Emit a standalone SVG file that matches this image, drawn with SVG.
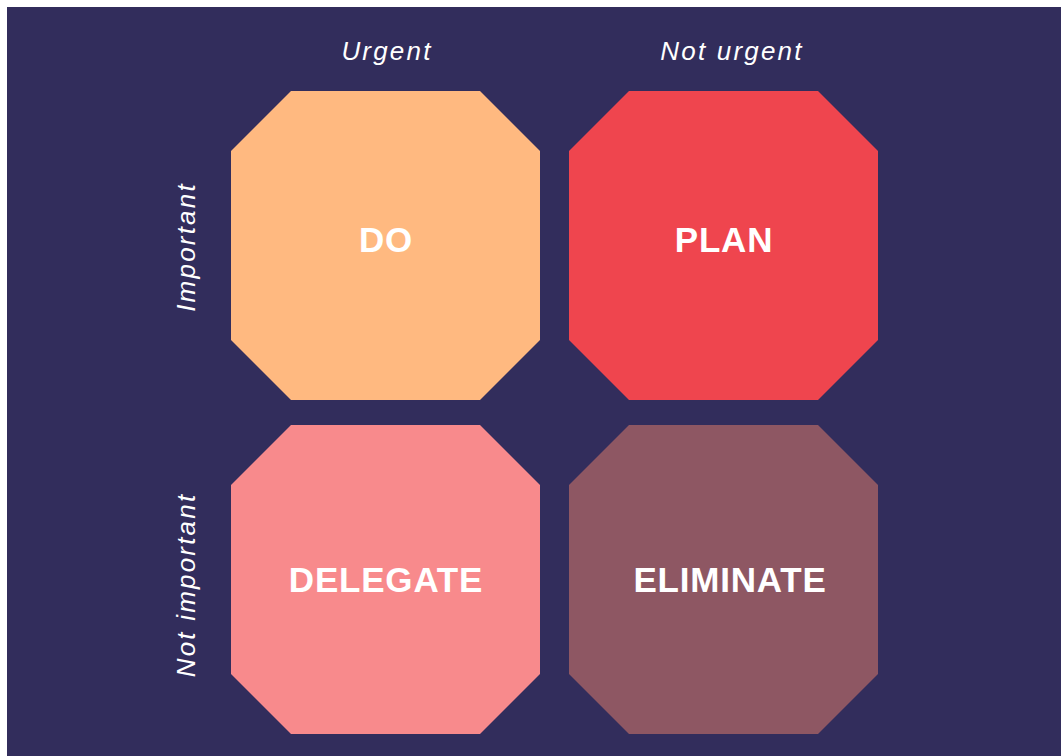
<svg xmlns="http://www.w3.org/2000/svg" width="1061" height="756" viewBox="0 0 1061 756">
<style>
.lbl{font-family:"Liberation Sans",Arial,sans-serif;font-style:italic;font-size:26px;fill:#ffffff;letter-spacing:2.2px;text-anchor:middle}
.q{font-family:"Liberation Sans",Arial,sans-serif;font-weight:bold;font-size:35px;fill:#ffffff;letter-spacing:0.8px;text-anchor:middle}
</style>
<rect x="0" y="0" width="1061" height="756" fill="#ffffff"/>
<rect x="7" y="7" width="1054" height="749" fill="#322D5C"/>
<g id="labels">
<text class="lbl" x="387" y="60">Urgent</text>
<text class="lbl" x="732" y="60">Not urgent</text>
<text class="lbl" transform="translate(195,247) rotate(-90)">Important</text>
<text class="lbl" transform="translate(195,585) rotate(-90)">Not important</text>
</g>
<g id="do">
<polygon points="291,91 480,91 540,151 540,340 480,400 291,400 231,340 231,151" fill="#FFB980"/>
<text class="q" x="386" y="252">DO</text>
</g>
<g id="plan">
<polygon points="629,91 818,91 878,151 878,340 818,400 629,400 569,340 569,151" fill="#EF454E"/>
<text class="q" x="724" y="252">PLAN</text>
</g>
<g id="delegate">
<polygon points="291,425 480,425 540,485 540,674 480,734 291,734 231,674 231,485" fill="#F88A8C"/>
<text class="q" x="386" y="592">DELEGATE</text>
</g>
<g id="eliminate">
<polygon points="629,425 818,425 878,485 878,674 818,734 629,734 569,674 569,485" fill="#8E5763"/>
<text class="q" x="730" y="592">ELIMINATE</text>
</g>
<g id="connectors"></g>
</svg>
